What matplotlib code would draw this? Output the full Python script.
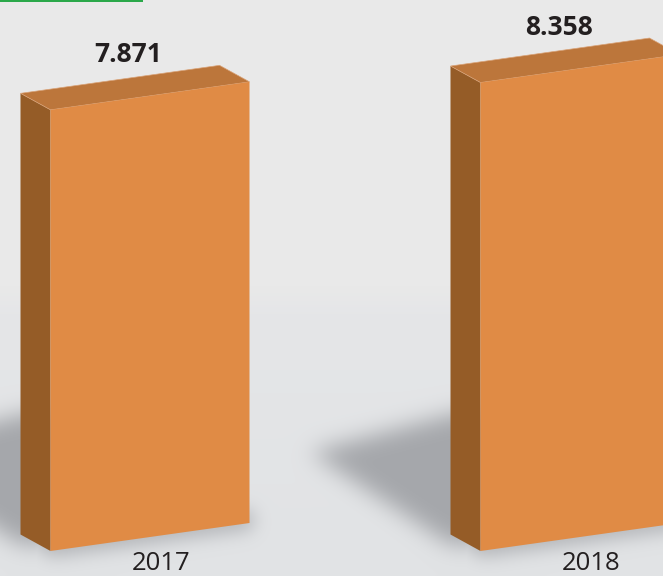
import numpy as np
import matplotlib
matplotlib.use("Agg")
import matplotlib.pyplot as plt
from matplotlib.path import Path
from matplotlib.patches import Polygon, Rectangle

years = ["2017", "2018"]
values = [7.871, 8.358]
value_labels = ["7.871", "8.358"]

W, H = 663, 576
PX_PER_UNIT = 56.05
BASE_Y = 551
FRONT_X = [50.5, 480.5]
FRONT_W = 199
SLOPE = 28.0 / 199
DEPTH_X = 30
DEPTH_Y = 16.5

FRONT_COL = "#e08b45"
SIDE_COL = "#955c27"
TOP_COL = "#bc763b"
TEXT_COL = "#231f20"


def poly_mask(pts):
    yy, xx = np.mgrid[0:H + 120, -160:W + 160]
    grid = np.column_stack((xx.ravel() + 0.5, yy.ravel() + 0.5))
    return Path(pts).contains_points(grid).reshape(xx.shape).astype(float)


def blur(a, sigma):
    r = int(sigma * 3)
    k = np.exp(-0.5 * (np.arange(-r, r + 1) / sigma) ** 2)
    k /= k.sum()
    a = np.apply_along_axis(lambda m: np.convolve(m, k, mode="same"), 0, a)
    a = np.apply_along_axis(lambda m: np.convolve(m, k, mode="same"), 1, a)
    return a


def make_background():
    # light grey, with a faint step at the "horizon"
    yy = np.arange(H)[:, None]
    top = np.array([233, 233, 233.0])
    mid = np.array([229, 230, 232.0])
    low = np.array([225, 227, 229.0])
    t = np.clip((yy - 285) / 30.0, 0, 1)
    u = np.clip((yy - 300) / 276.0, 0, 1)
    bg = np.zeros((H, W, 3))
    for c in range(3):
        col = top[c] * (1 - t) + mid[c] * t
        bg[:, :, c] = col * (1 - u) + low[c] * u

    alpha = np.zeros((H + 120, W + 320))
    for x0 in FRONT_X:
        # long cast shadow going left, short one under the front face
        cast = poly_mask([(x0 - 170, 452), (x0 - 20, 412), (x0, 412), (x0, 545), (x0 - 30, 545)])
        under = poly_mask([(x0 - 36, 528), (x0, 557), (x0 + FRONT_W + 4, 529),
                           (x0 + FRONT_W + 4, 510), (x0, 530)])
        alpha = np.maximum(alpha, blur(cast, 11) * 1.0)
        alpha = np.maximum(alpha, blur(under, 9) * 0.8)
    alpha = np.clip(alpha, 0, 1)[:H, 160:160 + W, None]
    shadow = np.array([165, 167, 171.0])
    return (bg * (1 - alpha) + shadow * alpha) / 255.0


fig = plt.figure(figsize=(W / 100, H / 100), dpi=100)
ax = fig.add_axes([0, 0, 1, 1])
ax.imshow(make_background(), extent=(0, W, H, 0), aspect="auto", zorder=0, interpolation="bilinear")
ax.set_xlim(0, W)
ax.set_ylim(H, 0)
ax.axis("off")

# green rule at the very top
ax.add_patch(Rectangle((0, 0), 143, 2, fc="#2ba84a", ec="none", zorder=1))

for x0, val, lab, yr in zip(FRONT_X, values, value_labels, years):
    h = val * PX_PER_UNIT
    x1 = x0 + FRONT_W
    y0 = BASE_Y
    y1 = BASE_Y - FRONT_W * SLOPE
    ax.add_patch(Polygon([(x0 - DEPTH_X, y0 - DEPTH_Y), (x0, y0), (x0, y0 - h),
                          (x0 - DEPTH_X, y0 - h - DEPTH_Y)], fc=SIDE_COL, ec="none", zorder=2))
    ax.add_patch(Polygon([(x0 - DEPTH_X, y0 - h - DEPTH_Y), (x0, y0 - h), (x1, y1 - h),
                          (x1 - DEPTH_X, y1 - h - DEPTH_Y)], fc=TOP_COL, ec="#d9a277", lw=0.5, zorder=2))
    ax.add_patch(Polygon([(x0, y0), (x1, y1), (x1, y1 - h), (x0, y0 - h)],
                         fc=FRONT_COL, ec="none", zorder=3))
    ax.text(x0 + 78, y0 - h - 55, lab, ha="center", va="center", fontsize=19,
            fontweight="bold", family="Open Sans", color=TEXT_COL, zorder=4)
    ax.text(x0 + 110.5, 564, yr, ha="center", va="center", fontsize=18.5,
            family="Open Sans", color=TEXT_COL, zorder=4)

fig.savefig("out.png", dpi=100)
